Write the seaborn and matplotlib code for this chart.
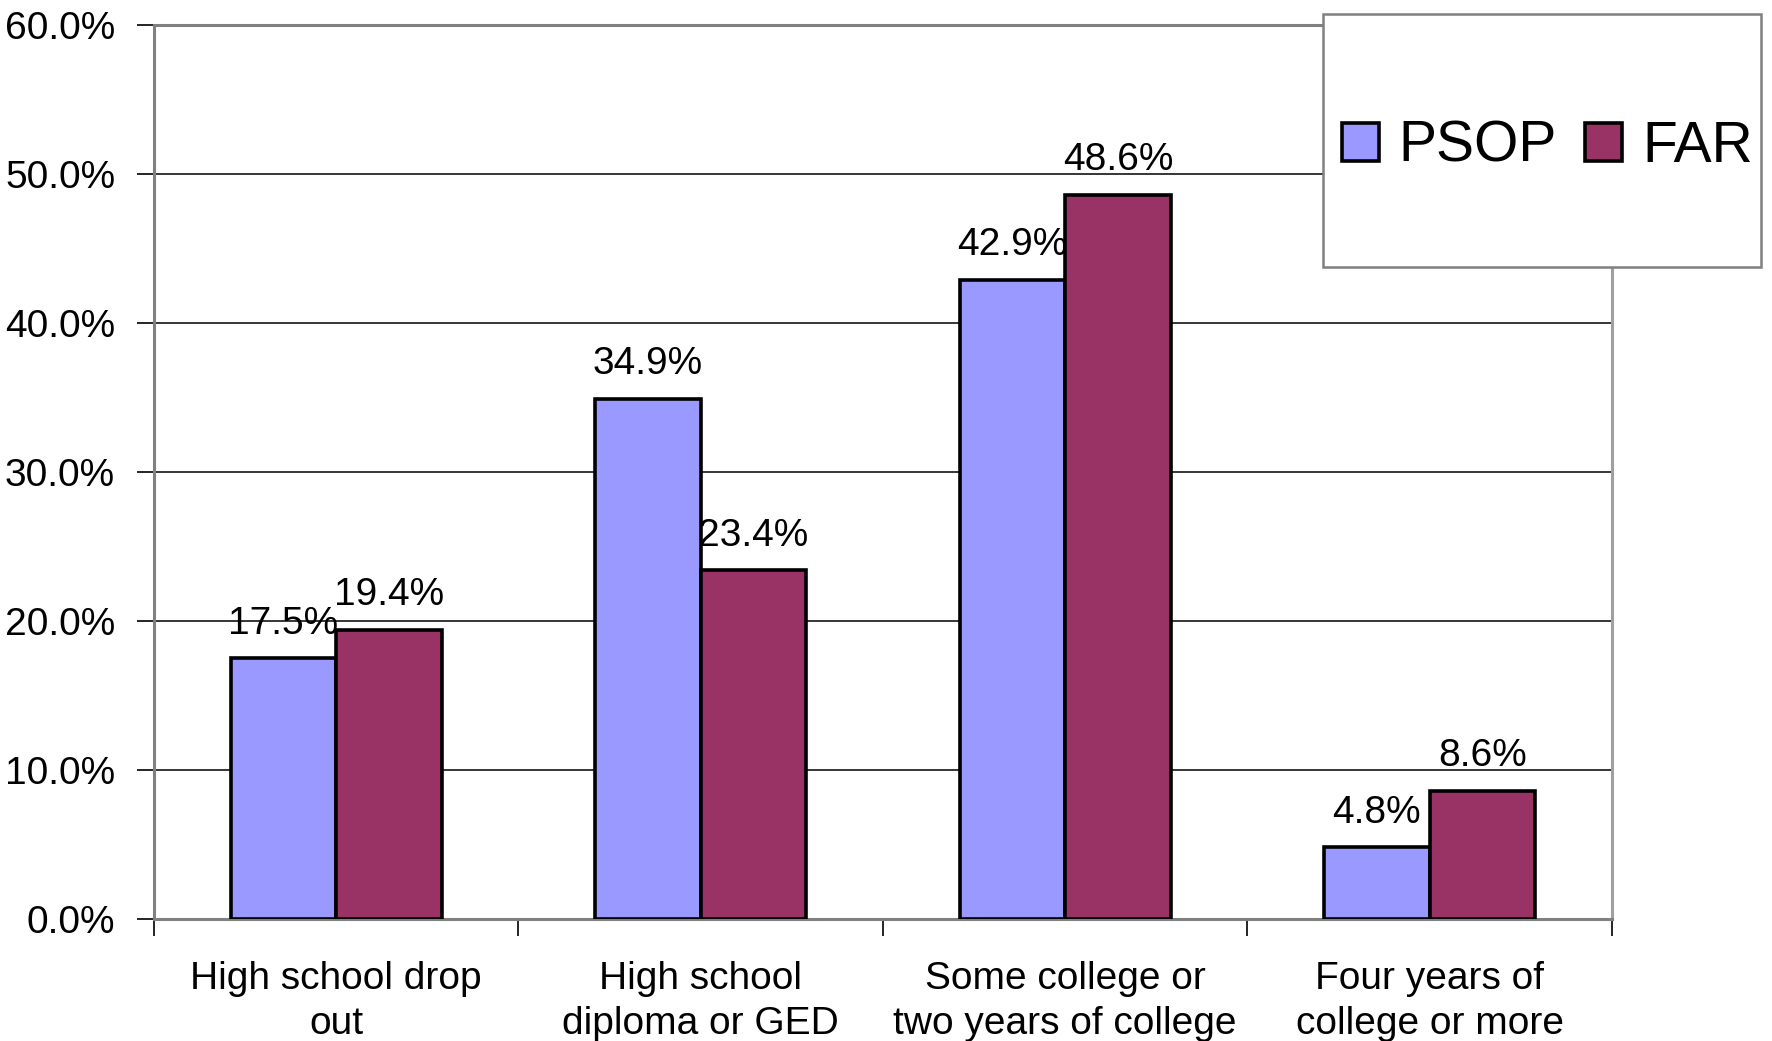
import matplotlib
matplotlib.use("Agg")
import matplotlib.pyplot as plt
from matplotlib.patches import Rectangle, Patch
from matplotlib.ticker import FuncFormatter, FixedLocator
import seaborn as sns
import pandas as pd

# Education level shares by program
categories = [
    "High school drop\nout",
    "High school\ndiploma or GED",
    "Some college or\ntwo years of college",
    "Four years of\ncollege or more",
]
series_names = ["PSOP", "FAR"]
psop_values = [17.5, 34.9, 42.9, 4.8]
far_values = [19.4, 23.4, 48.6, 8.6]
colors = ["#9999FF", "#993366"]

df = pd.DataFrame({
    "category": categories * 2,
    "group": [series_names[0]] * len(categories) + [series_names[1]] * len(categories),
    "value": psop_values + far_values,
})

sns.set_theme(style="white")
plt.rcParams["font.family"] = ["Liberation Sans", "DejaVu Sans"]
plt.rcParams["text.color"] = "black"
plt.rcParams["xtick.color"] = "black"
plt.rcParams["ytick.color"] = "black"
plt.rcParams["xtick.labelcolor"] = "black"
plt.rcParams["ytick.labelcolor"] = "black"

fig = plt.figure(figsize=(17.72, 10.41), dpi=100)
ax = fig.add_axes([0.0869, 0.1172, 0.9097 - 0.0869, 0.976 - 0.1172])

sns.barplot(data=df, x="category", y="value", hue="group", order=categories,
            hue_order=series_names, palette=colors, width=0.58, gap=0,
            edgecolor="black", linewidth=2.6, saturation=1, legend=False, ax=ax,
            zorder=3)

# value labels above bars
for container, vals in zip(ax.containers, [psop_values, far_values]):
    ax.bar_label(container, labels=[f"{v:.1f}%" for v in vals], padding=12,
                 fontsize=28, color="black")

ax.set_ylim(0, 60)
ax.set_xlim(-0.5, len(categories) - 0.5)
ax.set_yticks(range(0, 61, 10))
ax.yaxis.set_major_formatter(FuncFormatter(lambda v, p: f"{v:.1f}%"))
ax.set_xlabel("")
ax.set_ylabel("")

# horizontal gridlines
ax.yaxis.grid(True, color="black", linewidth=1.1, zorder=0)
ax.xaxis.grid(False)
ax.set_axisbelow(True)

# category separators as minor ticks
ax.xaxis.set_minor_locator(FixedLocator([i - 0.5 for i in range(len(categories) + 1)]))
ax.tick_params(axis="x", which="major", length=0, pad=30, labelsize=28)
ax.tick_params(axis="x", which="minor", length=12, width=1.2, color="black", direction="out", bottom=True)
ax.tick_params(axis="y", which="major", length=12, width=1.2, color="black", direction="out",
               left=True, pad=16, labelsize=28)
for lbl in ax.get_xticklabels():
    lbl.set_linespacing(1.35)

for side in ["left", "bottom", "top", "right"]:
    ax.spines[side].set_visible(True)
    ax.spines[side].set_color("#808080")
    ax.spines[side].set_linewidth(2.2)
ax.spines["right"].set_color("#a0a0a0")

# legend box
box = Rectangle((0.7466, 0.7435), 0.2472, 0.2431, transform=fig.transFigure,
                facecolor="white", edgecolor="#808080", linewidth=1.8, zorder=10)
fig.patches.append(box)
handles = [Patch(facecolor=c, edgecolor="black", linewidth=2.6) for c in colors]
leg = fig.legend(handles, series_names, loc="center",
                 bbox_to_anchor=(0.7466 + 0.2472 / 2 + 0.003, 0.7435 + 0.2431 / 2 - 0.006),
                 ncol=2, frameon=False, fontsize=41, handlelength=0.65, handleheight=0.65,
                 handletextpad=0.35, columnspacing=0.5, borderpad=0)
leg.set_zorder(20)

fig.savefig("out.png", dpi=100, facecolor="white")
